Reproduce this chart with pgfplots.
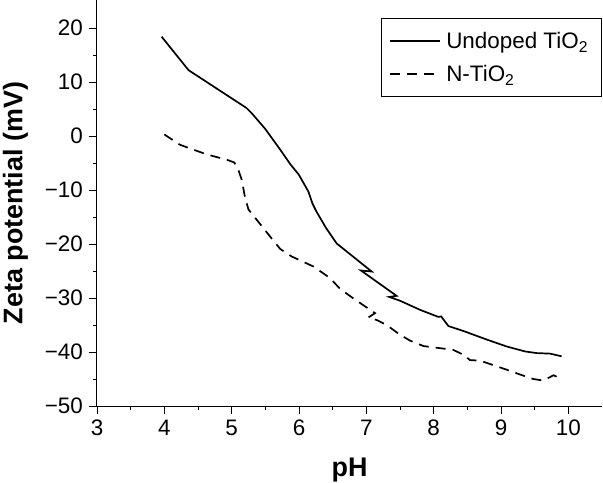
\documentclass[border=0pt]{standalone}
\usepackage{pgfplots}
\pgfplotsset{compat=1.18}
\usepackage{fontspec}
\setmainfont{Liberation Sans}
\usetikzlibrary{calc}

\begin{document}
\begin{tikzpicture}
\begin{axis}[
  scale only axis,
  width=505bp, height=406bp,
  xmin=3, xmax=10.5, ymin=-50, ymax=25.2,
  axis x line*=bottom, axis y line*=left,
  axis line style={line width=1bp, black},
  xtick={3,4,5,6,7,8,9,10},
  xticklabels={3,4,5,6,7,8,9,10},
  ytick={-50,-40,-30,-20,-10,0,10,20},
  yticklabels={−50,−40,−30,−20,−10,0,10,20},
  minor x tick num=1, minor y tick num=1,
  tick align=outside,
  major tick length=8bp, minor tick length=4bp,
  every tick/.style={black, line width=0.9bp},
  ticklabel style={font=\fontsize{22.5}{22.5}\selectfont},
  xticklabel style={inner sep=0pt, yshift=-6bp},
  yticklabel style={inner sep=0pt, xshift=-6bp},
  xlabel={pH}, ylabel={Zeta potential (mV)},
  every axis x label/.style={at={(axis description cs:0.5,0)}, anchor=base, yshift=-70bp, inner sep=0pt, font=\fontsize{27}{27}\selectfont\bfseries},
  every axis y label/.style={at={(axis description cs:-0.187,0.5)}, rotate=90, anchor=north, inner sep=0pt, font=\fontsize{27}{27}\selectfont\bfseries},
  legend style={at={(rel axis cs:1,1)}, anchor=north east, yshift=-18bp, xshift=-0.5bp, draw=black, line width=1bp,
    font=\fontsize{22.5}{22.5}\selectfont, inner xsep=8bp, inner ysep=12bp, row sep=11bp,
    nodes={inner xsep=5bp}},
  legend cell align=left,
]
\coordinate (bl) at (rel axis cs:0,0);
\coordinate (tr) at (rel axis cs:1,1);
\addplot[black, line width=1.7bp,
  legend image code/.code={\draw[black, line width=1.9bp] (0bp,0.5bp) -- (50bp,0.5bp);}] coordinates {
(3.96,18.4) (4.36,12.2) (5.22,5.2) (5.30,4.2) (5.50,1.3) (5.72,-2.5) (5.87,-5.2)
(6.00,-7.2) (6.14,-10.3) (6.20,-12.5) (6.26,-14.0) (6.40,-17.0) (6.56,-19.9)
(6.86,-22.9) (7.08,-25.1) (6.92,-24.9) (7.45,-29.6) (7.34,-29.8) (7.50,-30.5)
(7.80,-32.2) (8.07,-33.5) (8.11,-33.4) (8.22,-35.2) (8.44,-36.1) (8.79,-37.7)
(9.09,-39.0) (9.36,-39.9) (9.53,-40.2) (9.73,-40.3) (9.90,-40.8)
};
\addlegendentry{Undoped TiO\textsubscript{2}}
\addplot[black, line width=1.7bp, dash pattern=on 10bp off 7bp,
  legend image code/.code={\draw[black, line width=1.7bp, dash pattern=on 10bp off 7bp] (0bp,0bp) -- (50bp,0bp);}] coordinates {
(4.00,0.3) (4.23,-1.6) (4.36,-2.2) (4.63,-3.4) (4.93,-4.4) (5.04,-4.9) (5.10,-6.3)
(5.15,-8.1) (5.20,-11.5) (5.25,-13.6) (5.57,-18.6) (5.72,-20.9) (5.89,-22.3)
(6.22,-24.2) (6.46,-26.3) (6.61,-28.3) (6.81,-30.1) (7.13,-32.8) (7.03,-33.6)
(7.16,-34.1) (7.30,-35.0) (7.50,-36.8) (7.65,-37.9) (7.85,-38.9) (8.29,-39.6)
(8.44,-40.5) (8.54,-41.5) (8.69,-41.6) (9.09,-43.3) (9.29,-44.2) (9.48,-45.0)
(9.63,-45.3) (9.78,-44.3) (9.90,-45.0)
};
\addlegendentry{N-TiO\textsubscript{2}}
\end{axis}
\pgfresetboundingbox
\path ($(bl)+(-97bp,-77bp)$) rectangle ($(tr)+(1bp,0bp)$);
\end{tikzpicture}
\end{document}
